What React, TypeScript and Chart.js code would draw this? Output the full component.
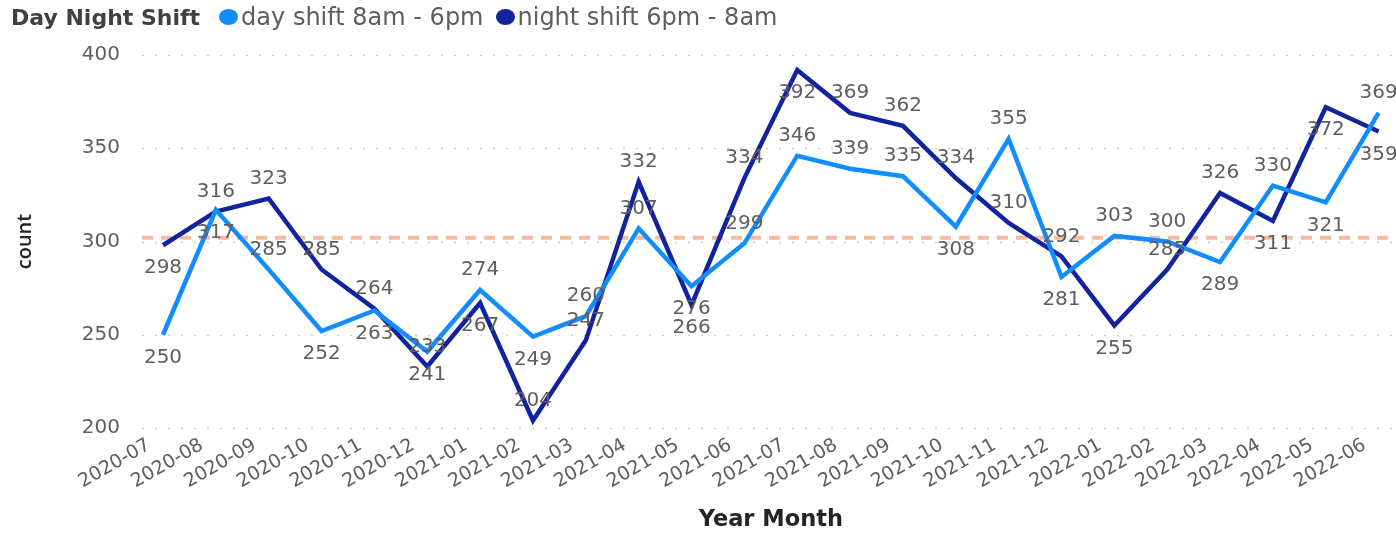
import React, { useEffect, useRef } from "react";
import { Chart, registerables } from "chart.js";

Chart.register(...registerables);

const legendTitle = "Day Night Shift";
const seriesNames = ["day shift 8am - 6pm", "night shift 6pm - 8am"];
const seriesColors = ["#118DFF", "#12239E"];

const categories = [
  "2020-07", "2020-08", "2020-09", "2020-10", "2020-11", "2020-12",
  "2021-01", "2021-02", "2021-03", "2021-04", "2021-05", "2021-06",
  "2021-07", "2021-08", "2021-09", "2021-10", "2021-11", "2021-12",
  "2022-01", "2022-02", "2022-03", "2022-04", "2022-05", "2022-06",
];

const dayShift = [
  250, 317, 285, 252, 263, 241, 274, 249, 260, 307, 276, 299,
  346, 339, 335, 308, 355, 281, 303, 300, 289, 330, 321, 369,
];

const nightShift = [
  298, 316, 323, 285, 264, 233, 267, 204, 247, 332, 266, 334,
  392, 369, 362, 334, 310, 292, 255, 285, 326, 311, 372, 359,
];

// label placement per point: "a" = above, "b" = below
const dayLabelPlacement = [
  "b", "b", "a", "b", "b", "b", "a", "b", "a", "a", "b", "a",
  "a", "a", "a", "b", "a", "b", "a", "a", "b", "a", "b", "a",
];
const nightLabelPlacement = [
  "b", "a", "a", "a", "a", "a", "b", "a", "a", "a", "b", "a",
  "b", "a", "a", "a", "a", "a", "b", "a", "a", "b", "b", "b",
];

const yTickValues = [200, 250, 300, 350, 400];
const averageLineValue = 302;

const xAxisTitle = "Year Month";
const yAxisTitle = "count";

const gridPlugin = {
  id: "customGrid",
  beforeDatasetsDraw(chart: any) {
    const { ctx, chartArea, scales } = chart;
    const y = scales.y;
    const x0 = chartArea.left - 21;
    const x1 = chart.width;
    ctx.save();
    ctx.strokeStyle = "#CFCDCB";
    ctx.lineWidth = 1.5;
    ctx.setLineDash([2, 11]);
    yTickValues.forEach((v) => {
      const py = Math.round(y.getPixelForValue(v)) + 0.5;
      ctx.beginPath();
      ctx.moveTo(x0, py);
      ctx.lineTo(x1, py);
      ctx.stroke();
    });
    const ay = y.getPixelForValue(averageLineValue);
    ctx.strokeStyle = "rgba(236,140,100,0.6)";
    ctx.lineWidth = 4;
    ctx.setLineDash([11, 8]);
    ctx.beginPath();
    ctx.moveTo(x0, ay);
    ctx.lineTo(x1, ay);
    ctx.stroke();
    ctx.restore();
  },
};

const labelPlugin = {
  id: "valueLabels",
  afterDatasetsDraw(chart: any) {
    const { ctx } = chart;
    const placements = [dayLabelPlacement, nightLabelPlacement];
    ctx.save();
    ctx.font = '20px "DejaVu Sans"';
    ctx.fillStyle = "#605E5C";
    ctx.textAlign = "center";
    ctx.textBaseline = "middle";
    chart.data.datasets.forEach((ds: any, di: number) => {
      const meta = chart.getDatasetMeta(di);
      meta.data.forEach((pt: any, i: number) => {
        const dy = placements[di][i] === "a" ? -20 : 23;
        ctx.fillText(String(ds.data[i]), pt.x, pt.y + dy);
      });
    });
    ctx.restore();
  },
};

function LegendItem({ color, label }: { color: string; label: string }) {
  return (
    <div style={{ display: "flex", alignItems: "center", marginLeft: 12 }}>
      <span
        style={{
          width: 19,
          height: 16,
          borderRadius: "50%",
          background: color,
          display: "inline-block",
          marginRight: 3,
        }}
      />
      <span style={{ fontSize: 24, color: "#605E5C" }}>{label}</span>
    </div>
  );
}

export default function App() {
  const canvasRef = useRef<HTMLCanvasElement | null>(null);

  useEffect(() => {
    if (!canvasRef.current) return;
    const chart = new Chart(canvasRef.current, {
      type: "line",
      data: {
        labels: categories,
        datasets: [
          {
            label: seriesNames[0],
            data: dayShift,
            borderColor: seriesColors[0],
            backgroundColor: seriesColors[0],
            borderWidth: 4.5,
            pointRadius: 0,
            tension: 0,
          },
          {
            label: seriesNames[1],
            data: nightShift,
            borderColor: seriesColors[1],
            backgroundColor: seriesColors[1],
            borderWidth: 4.5,
            pointRadius: 0,
            tension: 0,
          },
        ],
      },
      options: {
        responsive: false,
        animation: false,
        layout: { padding: { top: 52, right: 13, left: 0, bottom: 0 } },
        plugins: {
          legend: { display: false },
          tooltip: { enabled: false },
        },
        scales: {
          x: {
            type: "category",
            offset: false,
            grid: { display: false, drawTicks: false },
            border: { display: false },
            ticks: {
              autoSkip: false,
              minRotation: 30,
              maxRotation: 30,
              padding: 6,
              labelOffset: -14,
              color: "#605E5C",
              font: { family: "DejaVu Sans", size: 19 },
            },
            title: {
              display: true,
              text: xAxisTitle,
              color: "#252423",
              font: { family: "DejaVu Sans", size: 22.5, weight: "bold" },
              padding: { top: 0, bottom: 2 },
            },
            afterFit(scale: any) {
              scale.height = 108;
            },
          },
          y: {
            min: 200,
            max: 400,
            grid: { display: false, drawTicks: false },
            border: { display: false },
            afterBuildTicks(scale: any) {
              scale.ticks = yTickValues.map((v) => ({ value: v }));
            },
            ticks: {
              padding: 43,
              color: "#605E5C",
              font: { family: "DejaVu Sans", size: 20 },
            },
            title: {
              display: true,
              text: yAxisTitle,
              color: "#252423",
              font: { family: "Open Sans", size: 20, weight: "600" },
              padding: { top: 13, bottom: 0 },
            },
            afterFit(scale: any) {
              scale.width = 163;
            },
          },
        },
      },
      plugins: [gridPlugin, labelPlugin],
    });
    return () => chart.destroy();
  }, []);

  return (
    <div
      style={{
        position: "fixed",
        left: 0,
        top: 0,
        width: 1396,
        height: 536,
        background: "#fff",
        overflow: "hidden",
      }}
    >
      <canvas
        ref={canvasRef}
        width={1396}
        height={536}
        style={{ display: "block", position: "absolute", left: 0, top: 0 }}
      />
      <div
        style={{
          position: "absolute",
          left: 11,
          top: 2,
          height: 30,
          display: "flex",
          alignItems: "center",
          fontFamily: '"DejaVu Sans", sans-serif',
          whiteSpace: "nowrap",
        }}
      >
        <span style={{ fontSize: 22, fontWeight: "bold", color: "#404040", marginRight: 7 }}>
          {legendTitle}
        </span>
        <LegendItem color={seriesColors[0]} label={seriesNames[0]} />
        <LegendItem color={seriesColors[1]} label={seriesNames[1]} />
      </div>
    </div>
  );
}
